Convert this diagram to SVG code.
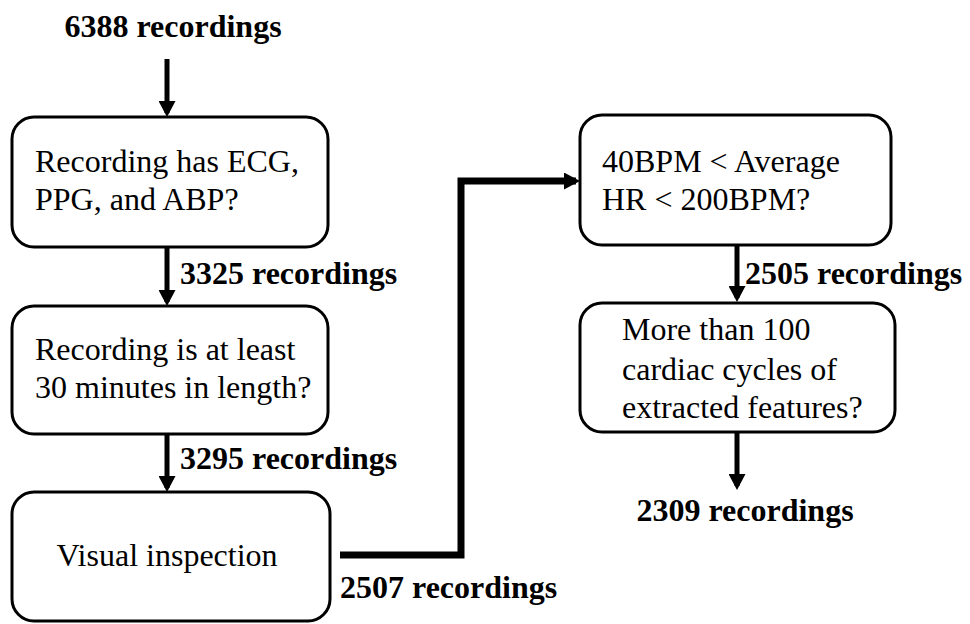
<svg xmlns="http://www.w3.org/2000/svg" width="970" height="624" viewBox="0 0 970 624">
  <defs>
    <style>
      .box { fill: #fff; stroke: #000; stroke-width: 3; }
      .txt { font-family: "Liberation Serif", "Times New Roman", serif; font-size: 32px; fill: #000; }
      .lbl { font-family: "Liberation Serif", "Times New Roman", serif; font-size: 32px; font-weight: bold; fill: #000; }
      .arr { stroke: #000; stroke-width: 5; fill: none; }
      .elbow { stroke: #000; stroke-width: 7; fill: none; }
    </style>
    <marker id="head" viewBox="0 0 16 17" refX="12" refY="8.5" markerWidth="16" markerHeight="17" markerUnits="userSpaceOnUse" orient="auto">
      <path d="M0,0 L16,8.5 L0,17 Z" fill="#000"/>
    </marker>
  </defs>
  <rect width="970" height="624" fill="#fff"/>

  <g id="connectors">
    <line class="arr" x1="167" y1="59" x2="167" y2="113" marker-end="url(#head)"/>
    <line class="arr" x1="167" y1="248" x2="167" y2="302" marker-end="url(#head)"/>
    <line class="arr" x1="167" y1="435" x2="167" y2="488" marker-end="url(#head)"/>
    <polyline class="elbow" points="340,555 461,555 461,181 576,181" marker-end="url(#head)"/>
    <line class="arr" x1="737" y1="246" x2="737" y2="298" marker-end="url(#head)"/>
    <line class="arr" x1="737" y1="433" x2="737" y2="486" marker-end="url(#head)"/>
  </g>

  <text class="lbl" x="173" y="37" text-anchor="middle">6388 recordings</text>
  <text class="lbl" x="180" y="284">3325 recordings</text>
  <text class="lbl" x="180" y="469">3295 recordings</text>
  <text class="lbl" x="340" y="598">2507 recordings</text>
  <text class="lbl" x="745" y="284">2505 recordings</text>
  <text class="lbl" x="745" y="521" text-anchor="middle">2309 recordings</text>

  <g id="has-signals">
    <rect class="box" x="12" y="117" width="316" height="130" rx="22"/>
    <text class="txt" x="35" y="172">Recording has ECG,</text>
    <text class="txt" x="35" y="210">PPG, and ABP?</text>
  </g>

  <g id="min-length">
    <rect class="box" x="12" y="306" width="316" height="128" rx="22"/>
    <text class="txt" x="35" y="360">Recording is at least</text>
    <text class="txt" x="35" y="398">30 minutes in length?</text>
  </g>

  <g id="visual-inspection">
    <rect class="box" x="12" y="492" width="318" height="129" rx="22"/>
    <text class="txt" x="167" y="566" text-anchor="middle">Visual inspection</text>
  </g>

  <g id="heart-rate">
    <rect class="box" x="580" y="115" width="311" height="130" rx="22"/>
    <text class="txt" x="602" y="172">40BPM &lt; Average</text>
    <text class="txt" x="602" y="210">HR &lt; 200BPM?</text>
  </g>

  <g id="cardiac-cycles">
    <rect class="box" x="580" y="303" width="315" height="129" rx="22"/>
    <text class="txt" x="622" y="340">More than 100</text>
    <text class="txt" x="622" y="380">cardiac cycles of</text>
    <text class="txt" x="622" y="418">extracted features?</text>
  </g>
</svg>
